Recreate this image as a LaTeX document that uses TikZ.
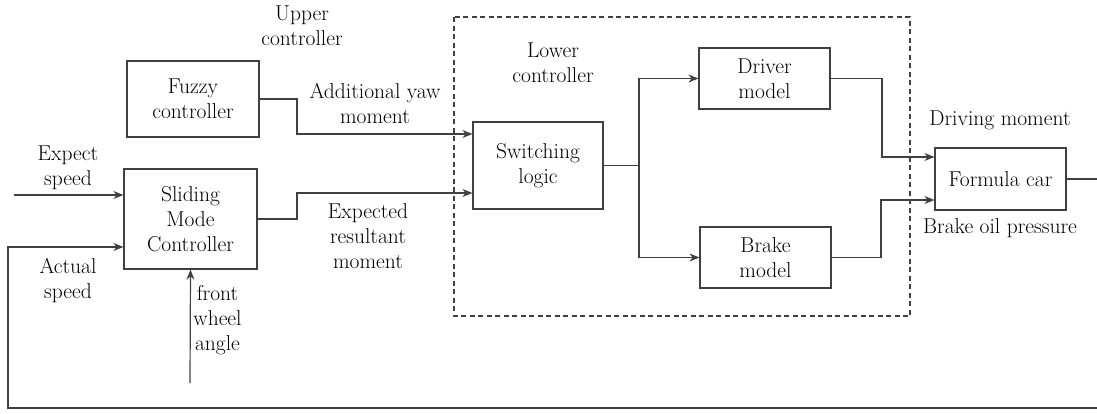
\documentclass[tikz,border=0pt]{standalone}
\usetikzlibrary{arrows.meta}
\begin{document}
\begin{tikzpicture}[x=1pt,y=-1pt,
  every node/.style={font=\fontsize{21.5}{25}\selectfont, inner sep=0pt, align=center, text=black},
  box/.style={draw=black!75, line width=1.2pt},
  conn/.style={draw=black!75, line width=1.2pt},
  arr/.style={conn, -{Stealth[length=10pt,width=8pt]}},
  dashbox/.style={draw=black!75, line width=1.1pt, dash pattern=on 5pt off 3.5pt}]
\useasboundingbox (0,0) rectangle (1097,413);
% boxes
\node[box, minimum width=132pt, minimum height=76pt] (fuzzy) at (193,99) {Fuzzy\\controller};
\node[box, minimum width=133pt, minimum height=100pt] (smc) at (190.5,219) {Sliding\\Mode\\Controller};
\node[box, minimum width=130pt, minimum height=87pt] (switch) at (538,165.5) {Switching\\logic};
\node[box, minimum width=131pt, minimum height=61pt] (driver) at (764.5,78.5) {Driver\\model};
\node[box, minimum width=131pt, minimum height=61pt] (brake) at (765.5,257.5) {Brake\\model};
\node[box, minimum width=131pt, minimum height=62pt] (car) at (1000.5,179) {Formula car};
\draw[dashbox] (454,17) rectangle (910,316);
% labels
\node (lupper) at (302,26) {Upper\\controller};
\node (lyaw) at (375,103) {Additional yaw\\moment};
\node (lres) at (368,236) {Expected\\resultant\\moment};
\node (lexp) at (68,168) {Expect\\speed};
\node (lact) at (68,280) {Actual\\speed};
\node (lfw) at (217.5,320) {front\\wheel\\angle};
\node (llow) at (553,63) {Lower\\controller};
\node (ldrv) at (1000,120) {Driving moment};
\node (lbop) at (1000,228) {Brake oil pressure};
% coordinates
\coordinate (es) at (14,195);
\coordinate (fw) at (190,383);
\coordinate (fbR) at (1097,408);
\coordinate (out) at (1097,179);
\coordinate (br) at (639,165.5);
% connectors
\draw[arr] (es) -- (smc.west |- 0,195);
\draw[arr] (fbR) -- (8,408) -- (8,247) -- (smc.west |- 0,247);
\draw[arr] (fw) -- (smc.south);
\draw[arr] (fuzzy.east) -| (297,134) -- (switch.west |- 0,134);
\draw[arr] (smc.east) -| (297,193) -- (switch.west |- 0,193);
\draw[conn] (switch.east) -- (br);
\draw[arr] (br) |- (driver.west);
\draw[arr] (br) |- (brake.west);
\draw[arr] (driver.east) -| (882,157) -- (car.west |- 0,157);
\draw[arr] (brake.east) -| (881,200) -- (car.west |- 0,200);
\draw[conn] (car.east) -- (out);
\end{tikzpicture}
\end{document}
